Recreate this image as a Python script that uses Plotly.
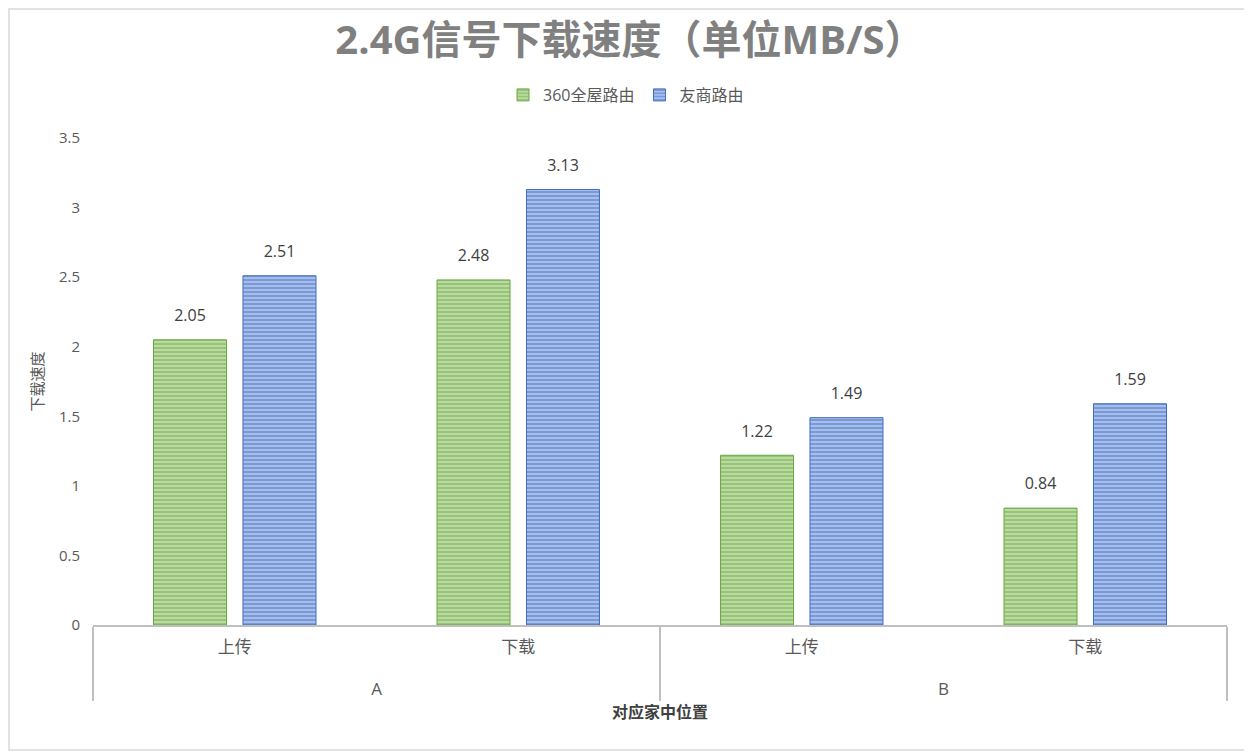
import plotly.graph_objects as go

# chart data
locations = ["A", "A", "B", "B"]
directions = ["上传", "下载", "上传", "下载"]
speed_360 = [2.05, 2.48, 1.22, 0.84]
speed_other = [2.51, 3.13, 1.49, 1.59]
series_names = ["360全屋路由", "友商路由"]

FONT = "Open Sans, Noto Sans CJK SC"
GREY = "#595959"

# the page body adds an 8px offset, so the figure is 8px smaller
W, H = 1244, 744
ML, MR, MT, MB = 85, 25, 130, 127

# outer level labels get an empty first line so they sit lower, like Excel
x_cat = [["<br>" + loc for loc in locations], directions]

fig = go.Figure()

styles = [
    dict(dark="#6aa83f", light="#c4e0ae"),
    dict(dark="#3f6cc0", light="#b3c7ee"),
]

for name, vals, st in zip(series_names, [speed_360, speed_other], styles):
    fig.add_trace(go.Bar(
        x=x_cat, y=vals, name=name,
        marker=dict(
            color=st["light"],
            line=dict(color=st["dark"], width=1),
            pattern=dict(shape="-", fgcolor=st["dark"], bgcolor=st["light"],
                         size=4, solidity=0.6, fillmode="overlay"),
        ),
    ))

# value labels, grouped the same way as the bars
for vals in [speed_360, speed_other]:
    fig.add_trace(go.Scatter(
        x=x_cat, y=vals, mode="markers+text",
        text=[f"{v:.2f}" for v in vals],
        textposition="top center",
        textfont=dict(family=FONT, size=16, color="#404040"),
        marker=dict(size=22, opacity=0),
        showlegend=False, hoverinfo="skip", cliponaxis=False,
    ))

# outer chart border
pw, ph = W - ML - MR, H - MT - MB
fig.add_shape(
    type="rect", xref="paper", yref="paper",
    x0=(1 - ML) / pw, x1=(W - 2 - ML) / pw,
    y0=-(MB - 2) / ph, y1=(H - MB - 1) / ph,
    line=dict(color="#d9d9d9", width=1.5), layer="below",
)

fig.update_layout(
    width=W, height=H,
    margin=dict(l=ML, r=MR, t=MT, b=MB),
    paper_bgcolor="white", plot_bgcolor="white",
    barmode="group", bargap=0.369, bargroupgap=0.184,
    scattermode="group", scattergap=0.369,
    title=dict(
        text="<b>2.4G信号下载速度（单位MB/S）</b>",
        x=0.5, xref="container", xanchor="center",
        y=1 - 32 / H, yref="container", yanchor="middle",
        font=dict(family=FONT, size=40, color="#808080"),
    ),
    legend=dict(
        orientation="h", x=0.5 - 4 / W, xref="container", xanchor="center",
        y=1 - 87 / H, yref="container", yanchor="middle",
        font=dict(family=FONT, size=16, color=GREY),
        traceorder="normal", itemwidth=30,
    ),
    showlegend=True,
)

fig.update_xaxes(
    type="multicategory",
    showline=True, linecolor="#bfbfbf", linewidth=2,
    showgrid=False, ticks="",
    showdividers=True, dividercolor="#bfbfbf", dividerwidth=2,
    tickfont=dict(family=FONT, size=17, color=GREY),
    ticklabelstandoff=6,
    title=dict(text="<b>对应家中位置</b>", standoff=8,
               font=dict(family=FONT, size=16, color="#404040")),
)
fig.update_yaxes(
    range=[0, 3.5], dtick=0.5, tick0=0,
    showgrid=False, zeroline=False, showline=False, ticks="",
    tickfont=dict(family=FONT, size=15, color=GREY),
    ticklabelstandoff=12,
    title=dict(text="下载速度", standoff=11,
               font=dict(family=FONT, size=15, color=GREY)),
)

fig.write_html("out.html")
